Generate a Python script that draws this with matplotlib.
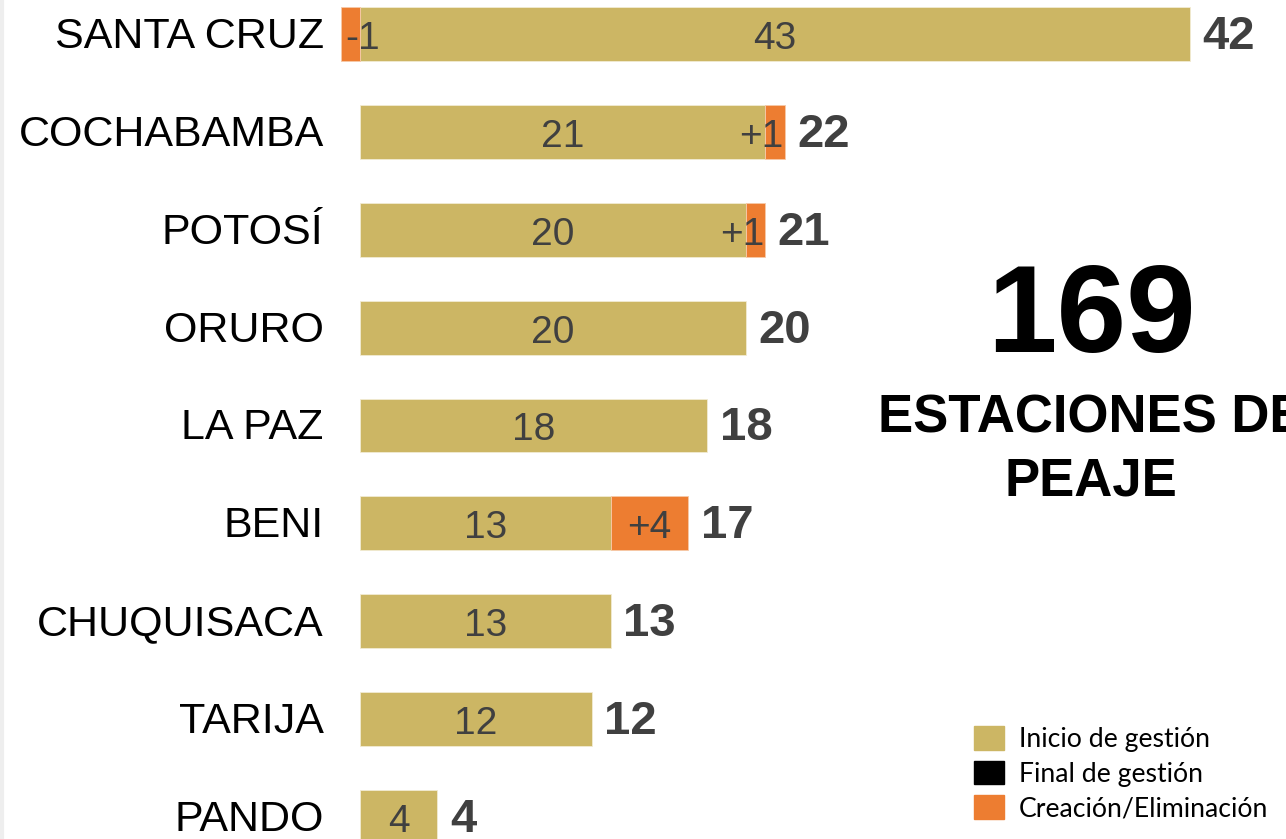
import matplotlib
matplotlib.use("Agg")
import matplotlib.pyplot as plt
from matplotlib.patches import Patch

categories = ["SANTA CRUZ", "COCHABAMBA", "POTOSÍ", "ORURO", "LA PAZ",
              "BENI", "CHUQUISACA", "TARIJA", "PANDO"]
inicio = [43, 21, 20, 20, 18, 13, 13, 12, 4]
cambio = [-1, 1, 1, 0, 0, 4, 0, 0, 0]
final = [42, 22, 21, 20, 18, 17, 13, 12, 4]
total_text = "169"
subtitle_1 = "ESTACIONES DE"
subtitle_2 = "PEAJE"
legend_labels = ["Inicio de gestión", "Final de gestión", "Creación/Eliminación"]

GOLD = "#CCB664"
ORANGE = "#ED7D31"
GRAY = "#404040"

plt.rcParams['font.family'] = ['Liberation Sans', 'DejaVu Sans']

fig = plt.figure(figsize=(12.86, 8.39), dpi=100)
W, H = 1286, 839
ax = fig.add_axes([341 / W, 0, 1 - 341 / W, 1])
ax.set_xlim(-1, 48)
ax.set_ylim(8.224, -0.347)
ax.axis('off')

ys = list(range(len(categories)))
bh = 0.55
ax.barh(ys, inicio, height=bh, color=GOLD, edgecolor='#F2EBD3', linewidth=0.6)
for y, s, c in zip(ys, inicio, cambio):
    if c > 0:
        ax.barh(y, c, left=s, height=bh, color=ORANGE, edgecolor='#F7C9A8', linewidth=0.6)
    elif c < 0:
        ax.barh(y, c, left=0, height=bh, color=ORANGE, edgecolor='#F7C9A8', linewidth=0.6)

dy = 0.05
for y, name, s, c, f in zip(ys, categories, inicio, cambio, final):
    ax.text(-1.9, y + 0.03, name, ha='right', va='center', fontsize=31, color='black')
    ax.text(s / 2, y + dy, str(s), ha='center', va='center', fontsize=28, color=GRAY)
    if c > 1:
        ax.text(s + c / 2, y + dy, f"+{c}", ha='center', va='center', fontsize=28, color=GRAY)
    elif c > 0:
        ax.text(s + c - 0.05, y + dy, f"+{c}", ha='right', va='center', fontsize=28, color=GRAY)
    elif c < 0:
        ax.text(-0.8, y + dy, f"{c}", ha='left', va='center', fontsize=28, color=GRAY)
    end = max(s, s + c)
    ax.annotate(str(f), xy=(end, y + 0.03), xytext=(9, 0), textcoords='offset points',
                ha='left', va='center', fontsize=34, fontweight='bold', color=GRAY)

fig.text(1091 / W, 1 - 320 / H, total_text, ha='center', va='center',
         fontsize=90, fontweight='bold', color='black')
fig.text(1091 / W, 1 - 419 / H, subtitle_1, ha='center', va='center',
         fontsize=38, fontweight='bold', color='black')
fig.text(1091 / W, 1 - 481 / H, subtitle_2, ha='center', va='center',
         fontsize=38, fontweight='bold', color='black')

handles = [Patch(facecolor=GOLD, edgecolor=GOLD),
           Patch(facecolor='black', edgecolor='black'),
           Patch(facecolor=ORANGE, edgecolor=ORANGE)]
fig.legend(handles, legend_labels, loc='upper left',
           bbox_to_anchor=(955 / W, 1 - 707 / H), frameon=False,
           prop={'family': ['Lato', 'DejaVu Sans'], 'size': 19.2},
           handlelength=1.15, handleheight=1.0, handletextpad=0.55,
           labelspacing=0.33, borderpad=0.2)

fig.add_artist(plt.Line2D([2 / W, 2 / W], [0, 1], color='#EEEEEE', linewidth=3,
                          transform=fig.transFigure))

fig.savefig("out.png", dpi=100)
